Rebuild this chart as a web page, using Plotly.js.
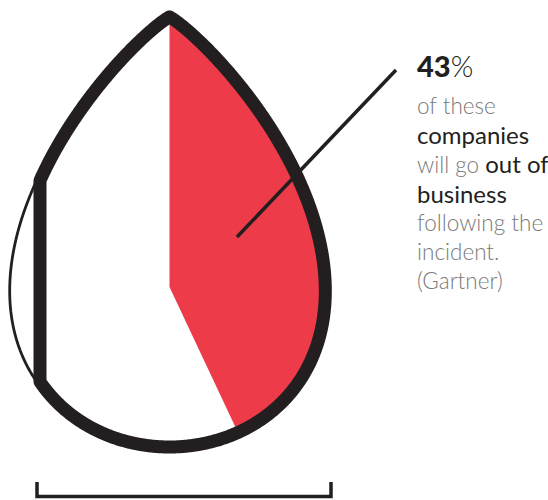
<!DOCTYPE html>
<html>
<head>
<meta charset="utf-8">
<script src="https://cdn.plot.ly/plotly-3.0.1.min.js"></script>
<style>html,body{margin:0;padding:0;background:#fff;}#chart{width:548px;height:500px;}</style>
</head>
<body>
<div id="chart"></div>
<script>
// ---- data ----
const shareValues = [43];            // percent of companies going out of business
const shareTotal = [100];
const calloutLines = ['43%', 'of these', 'companies', 'will go out of', 'business', 'following the', 'incident.', '(Gartner)'];
const emphasisPhrases = ['43', 'companies', 'out of', 'business'];

// ---- styling / geometry (not data) ----
const DARK = '#231f20', RED = '#ee3b4a', GREY = '#7a7a7a';
const xc = 169.5, yTip = 17, H = 430, W = 192, M = 0.753;
const cy = 287;          // sector centre
const barX = 40;         // inner flattened left side
const N = 1440;

function dropPoint(t, w) {
  return [xc + w * Math.sin(t) * Math.pow(Math.sin(t / 2), M), yTip + H * (1 - Math.cos(t)) / 2];
}

const thinX = [], thinY = [], thickX = [], thickY = [];
for (let i = 0; i <= N; i++) {
  const t = 2 * Math.PI * i / N;
  const p = dropPoint(t, W * 160 / 156);
  thinX.push(p[0]); thinY.push(p[1]);
  const q = dropPoint(t, W);
  thickX.push(Math.max(q[0], barX)); thickY.push(q[1]);
}

// red sector from centre, clockwise from "up"
const theta = 2 * Math.PI * shareValues[0] / shareTotal[0];
const angleOf = (p) => { let a = Math.atan2(p[0] - xc, -(p[1] - cy)); if (a < 0) a += 2 * Math.PI; return a; };
const redX = [xc], redY = [cy];
let prev = null;
for (let i = 0; i <= N / 2; i++) {
  const t = 2 * Math.PI * i / N;
  const p = dropPoint(t, W);
  const a = (i === 0) ? 0 : angleOf(p);
  if (a <= theta) { redX.push(p[0]); redY.push(p[1]); prev = [p, a]; }
  else {
    const [pp, pa] = prev;
    const f = (theta - pa) / (a - pa);
    redX.push(pp[0] + f * (p[0] - pp[0])); redY.push(pp[1] + f * (p[1] - pp[1]));
    break;
  }
}
redX.push(xc); redY.push(cy);

const traces = [
  {x: redX, y: redY, mode: 'lines', fill: 'toself', fillcolor: RED, line: {width: 0, color: RED, simplify: false}, hoverinfo: 'skip'},
  {x: thinX, y: thinY, mode: 'lines', line: {width: 2.8, color: DARK, simplify: false}, hoverinfo: 'skip'},
  {x: thickX, y: thickY, mode: 'lines', line: {width: 13, color: DARK, simplify: false}, hoverinfo: 'skip'}
];

// text callout
const textX = 415;
const baselines = [77];
for (let i = 1; i < calloutLines.length; i++) baselines.push(115 + (i - 1) * 29.3);
const annotations = calloutLines.map((line, i) => {
  let html = line;
  const header = i === 0;
  emphasisPhrases.forEach(ph => {
    if (html.indexOf(ph) >= 0) {
      html = html.replace(ph, header
        ? '<span style="font-weight:900">' + ph + '</span>'
        : '<span style="color:' + DARK + ';font-weight:400;font-size:24px">' + ph + '</span>');
    }
  });
  const size = header ? 29 : 22.5;
  return {
    x: textX, y: baselines[i] - 23 * 0.3 - 3, xref: 'x', yref: 'y',
    xanchor: 'left', yanchor: 'middle', showarrow: false, align: 'left',
    text: html,
    font: {family: 'Lato', size: size, color: header ? DARK : GREY, weight: 300}
  };
});
annotations[0].y = baselines[0] - 29 * 0.3 - 3;

const shapes = [
  {type: 'line', x0: 237, y0: 237, x1: 396, y1: 70, line: {color: DARK, width: 3.5}, layer: 'above'},
  {type: 'path', path: 'M 37 482 L 37 496.5 L 331 496.5 L 331 482', line: {color: DARK, width: 3.5}, layer: 'above'}
];

const layout = {
  width: 548, height: 500,
  margin: {l: 0, r: 0, t: 0, b: 0},
  paper_bgcolor: '#fff', plot_bgcolor: '#fff',
  showlegend: false, hovermode: false,
  xaxis: {range: [0, 548], visible: false, fixedrange: true},
  yaxis: {range: [500, 0], visible: false, fixedrange: true},
  annotations: annotations, shapes: shapes
};
Plotly.newPlot('chart', traces, layout, {staticPlot: true, displayModeBar: false});
</script>
</body>
</html>
